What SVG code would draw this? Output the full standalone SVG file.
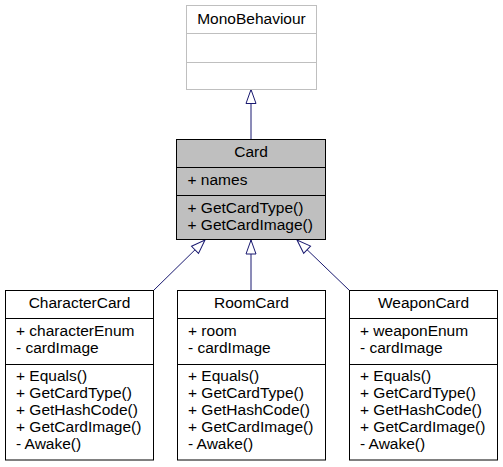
<svg xmlns="http://www.w3.org/2000/svg" width="503" height="467" viewBox="0 0 503 467">
<defs>
<style>
text{font-family:"Liberation Sans",Arial,sans-serif;font-size:15.5px;fill:#000}
.c{text-anchor:middle}
.box{fill:#fff;stroke:#000;stroke-width:1}
.cur{fill:#bfbfbf;stroke:#000;stroke-width:1}
.ext{fill:#fff;stroke:#bfbfbf;stroke-width:1}
.sep{stroke:#000;stroke-width:1}
.sepx{stroke:#bfbfbf;stroke-width:1}
.edge{stroke:#191970;stroke-width:1;fill:none;marker-end:url(#inh)}
</style>
<marker id="inh" markerUnits="userSpaceOnUse" markerWidth="16" markerHeight="12" refX="14" refY="5" orient="auto" overflow="visible">
<path d="M0,0 L14,5 L0,10 Z" fill="#fff" stroke="#191970" stroke-width="1"/>
</marker>
</defs>
<g id="connectors">
<line class="edge" x1="251" y1="139" x2="251" y2="89.5"/>
<line class="edge" x1="153.5" y1="290.5" x2="205" y2="240"/>
<line class="edge" x1="251" y1="290.5" x2="251" y2="240"/>
<line class="edge" x1="349.5" y1="290.5" x2="297" y2="240"/>
</g>
<g id="MonoBehaviour">
<rect class="ext" x="186.5" y="5.5" width="130" height="84"/>
<line class="sepx" x1="186.5" y1="33.5" x2="316.5" y2="33.5"/>
<line class="sepx" x1="186.5" y1="62.5" x2="316.5" y2="62.5"/>
<text class="c" x="251.5" y="24">MonoBehaviour</text>
</g>
<g id="Card">
<rect class="cur" x="176.5" y="139.5" width="149" height="100"/>
<line class="sep" x1="176.5" y1="167.5" x2="325.5" y2="167.5"/>
<line class="sep" x1="176.5" y1="195.5" x2="325.5" y2="195.5"/>
<text class="c" x="251" y="157">Card</text>
<text x="187.5" y="185">+ names</text>
<text x="187.5" y="213">+ GetCardType()</text>
<text x="187.5" y="230">+ GetCardImage()</text>
</g>
<g id="CharacterCard">
<rect class="box" x="5.5" y="290.5" width="148" height="169.5"/>
<line class="sep" x1="5.5" y1="318.5" x2="153.5" y2="318.5"/>
<line class="sep" x1="5.5" y1="364.5" x2="153.5" y2="364.5"/>
<text class="c" x="79.5" y="308">CharacterCard</text>
<text x="16" y="335.5">+ characterEnum</text>
<text x="16" y="352.5">- cardImage</text>
<text x="16" y="381">+ Equals()</text>
<text x="16" y="398">+ GetCardType()</text>
<text x="16" y="415">+ GetHashCode()</text>
<text x="16" y="432">+ GetCardImage()</text>
<text x="16" y="449">- Awake()</text>
</g>
<g id="RoomCard">
<rect class="box" x="177.5" y="290.5" width="148" height="169.5"/>
<line class="sep" x1="177.5" y1="318.5" x2="325.5" y2="318.5"/>
<line class="sep" x1="177.5" y1="364.5" x2="325.5" y2="364.5"/>
<text class="c" x="251.5" y="308">RoomCard</text>
<text x="188" y="335.5">+ room</text>
<text x="188" y="352.5">- cardImage</text>
<text x="188" y="381">+ Equals()</text>
<text x="188" y="398">+ GetCardType()</text>
<text x="188" y="415">+ GetHashCode()</text>
<text x="188" y="432">+ GetCardImage()</text>
<text x="188" y="449">- Awake()</text>
</g>
<g id="WeaponCard">
<rect class="box" x="349.5" y="290.5" width="148" height="169.5"/>
<line class="sep" x1="349.5" y1="318.5" x2="497.5" y2="318.5"/>
<line class="sep" x1="349.5" y1="364.5" x2="497.5" y2="364.5"/>
<text class="c" x="423.5" y="308">WeaponCard</text>
<text x="360" y="335.5">+ weaponEnum</text>
<text x="360" y="352.5">- cardImage</text>
<text x="360" y="381">+ Equals()</text>
<text x="360" y="398">+ GetCardType()</text>
<text x="360" y="415">+ GetHashCode()</text>
<text x="360" y="432">+ GetCardImage()</text>
<text x="360" y="449">- Awake()</text>
</g>
</svg>
